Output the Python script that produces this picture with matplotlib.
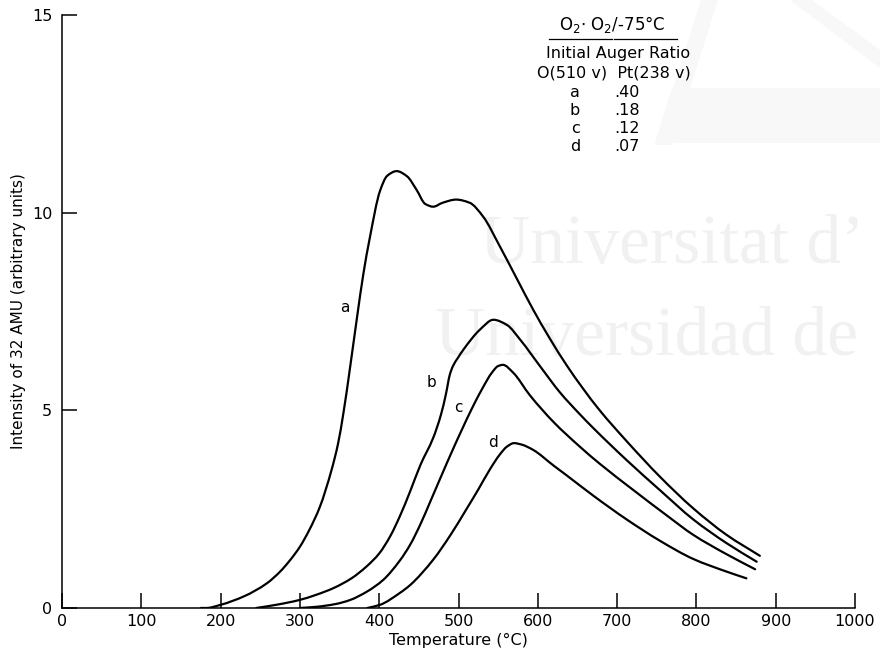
import matplotlib
matplotlib.use("Agg")
import numpy as np
import matplotlib.pyplot as plt
from matplotlib.patches import Polygon, PathPatch
from matplotlib.path import Path

plt.rcParams['font.family'] = ['DejaVu Sans']

# Thermal desorption of O2 (32 AMU) from Pt after O2 exposure at -75 °C
temp_a = [175, 182, 200, 230, 258, 275, 288, 300, 312, 325, 340, 348, 355, 363, 372,
          380, 388, 401, 410, 422, 435, 447, 458, 468, 480, 497, 514, 531, 552, 573,
          594, 615, 636, 657, 678, 712, 754, 796, 838, 880]
int_a = [0.0, 0.0, 0.08, 0.30, 0.62, 0.92, 1.22, 1.55, 1.98, 2.55, 3.50, 4.15, 4.95, 6.05, 7.35,
         8.45, 9.35, 10.55, 10.93, 11.05, 10.92, 10.58, 10.22, 10.15, 10.25, 10.33, 10.25, 9.90, 9.15, 8.35,
         7.55, 6.82, 6.15, 5.55, 5.00, 4.22, 3.32, 2.52, 1.85, 1.32]

temp_b = [245, 270, 299, 320, 342, 365, 384, 400, 414, 426, 439, 452, 468, 478, 484,
          489, 493, 499, 506, 527, 544, 561, 578, 603, 628, 653, 670, 712, 754, 796, 838, 876]
int_b = [0.0, 0.08, 0.20, 0.33, 0.50, 0.75, 1.05, 1.38, 1.82, 2.32, 2.95, 3.62, 4.30, 4.90, 5.40,
         5.90, 6.12, 6.32, 6.53, 7.04, 7.29, 7.16, 6.78, 6.11, 5.45, 4.90, 4.55, 3.74, 2.98, 2.24, 1.64, 1.17]

temp_c = [300, 321, 345, 363, 385, 405, 426, 439, 452, 465, 477, 490, 504, 517, 530,
          542, 550, 556, 569, 590, 620, 653, 678, 720, 762, 796, 838, 874]
int_c = [0.0, 0.03, 0.10, 0.20, 0.42, 0.71, 1.20, 1.60, 2.12, 2.72, 3.28, 3.88, 4.50, 5.05, 5.55,
         5.95, 6.12, 6.15, 5.95, 5.38, 4.70, 4.08, 3.65, 2.99, 2.35, 1.85, 1.36, 0.98]

temp_d = [385, 401, 426, 439, 468, 490, 510, 525, 540, 552, 561, 570, 580, 594, 620,
          636, 670, 712, 754, 796, 838, 863]
int_d = [0.0, 0.08, 0.38, 0.58, 1.22, 1.85, 2.50, 3.00, 3.52, 3.88, 4.08, 4.17, 4.13, 4.00, 3.60,
         3.36, 2.84, 2.24, 1.70, 1.24, 0.92, 0.75]

curve_names = ['a', 'b', 'c', 'd']
auger_ratios = ['.40', '.18', '.12', '.07']
curve_label_pos = [(357, 7.6), (466, 5.7), (500, 5.08), (544, 4.19)]

x_ticks = list(range(0, 1001, 100))
y_ticks = [0, 5, 10, 15]


def hermite_path(x, y):
    """Smooth Bezier path through the given points (shape-preserving tangents)."""
    x = np.asarray(x, float)
    y = np.asarray(y, float)
    h = np.diff(x)
    d = np.diff(y) / h
    m = np.zeros_like(y)
    m[0], m[-1] = d[0], d[-1]
    for k in range(1, len(x) - 1):
        if d[k - 1] * d[k] > 0:
            w1 = 2 * h[k] + h[k - 1]
            w2 = h[k] + 2 * h[k - 1]
            m[k] = (w1 + w2) / (w1 / d[k - 1] + w2 / d[k])
    verts = [(x[0], y[0])]
    codes = [Path.MOVETO]
    for i in range(len(h)):
        verts += [(x[i] + h[i] / 3, y[i] + m[i] * h[i] / 3),
                  (x[i + 1] - h[i] / 3, y[i + 1] - m[i + 1] * h[i] / 3),
                  (x[i + 1], y[i + 1])]
        codes += [Path.CURVE4] * 3
    return Path(verts, codes)


fig = plt.figure(figsize=(8.8, 6.56), dpi=100)
fig.patch.set_facecolor('white')

# faint background watermark (logo and institution name)
for pts in ([(655, 145), (672, 145), (718, 0), (701, 0)],
            [(672, 88), (880, 88), (880, 143), (655, 143)],
            [(790, 0), (812, 0), (880, 50), (880, 68)]):
    fig.patches.append(Polygon([(px / 880, 1 - py / 656) for px, py in pts],
                               closed=True, transform=fig.transFigure,
                               facecolor='#f8f8f8', edgecolor='none', zorder=-2))
wm = '#f1f1f1'
fig.text(480 / 880, 1 - 263 / 656, "Universitat d\u2019", family='Liberation Serif',
         fontsize=50, color=wm, ha='left', va='baseline', zorder=-1)
fig.text(435 / 880, 1 - 355 / 656, "Universidad de", family='Liberation Serif',
         fontsize=50, color=wm, ha='left', va='baseline', zorder=-1)

ax = fig.add_axes([0.0705, 0.0732, 0.9011, 0.9040])
ax.patch.set_alpha(0)

for t, v in ((temp_a, int_a), (temp_b, int_b), (temp_c, int_c), (temp_d, int_d)):
    ax.add_patch(PathPatch(hermite_path(t, v), facecolor='none', edgecolor='black',
                           lw=1.6, joinstyle='round', capstyle='round'))

for name, (x, y) in zip(curve_names, curve_label_pos):
    ax.text(x, y, name, fontsize=11, ha='center', va='center')

ax.set_xlim(0, 1000)
ax.set_ylim(0, 15)
ax.set_xticks(x_ticks)
ax.set_yticks(y_ticks)
ax.tick_params(direction='in', length=11, width=1.1, labelsize=11.5, color='black')
ax.tick_params(axis='x', pad=4)
ax.tick_params(axis='y', pad=7)
for side in ('top', 'right'):
    ax.spines[side].set_visible(False)
for side in ('left', 'bottom'):
    ax.spines[side].set_linewidth(1.1)

ax.set_xlabel('Temperature (\u00b0C)', fontsize=11.5, labelpad=3)
ax.set_ylabel('Intensity of 32 AMU (arbitrary units)', fontsize=11, labelpad=4)

# key with the initial Auger ratios
ax.text(694, 14.76, 'O$_2$$\\cdot$ O$_2$/-75\u00b0C', fontsize=12, ha='center', va='center')
ax.plot([614, 693], [14.4, 14.4], color='black', lw=0.9)
ax.plot([696, 775], [14.4, 14.4], color='black', lw=0.9)
ax.text(701, 14.03, 'Initial Auger Ratio', fontsize=11.5, ha='center', va='center')
ax.text(696, 13.54, 'O(510 v)  Pt(238 v)', fontsize=11.5, ha='center', va='center')
row_y = [13.04, 12.58, 12.13, 11.67]
for name, ratio, y in zip(curve_names, auger_ratios, row_y):
    ax.text(647, y, name, fontsize=11.5, ha='center', va='center')
    ax.text(697, y, ratio, fontsize=11.5, ha='left', va='center')

fig.savefig('out.png', dpi=100, facecolor='white')
